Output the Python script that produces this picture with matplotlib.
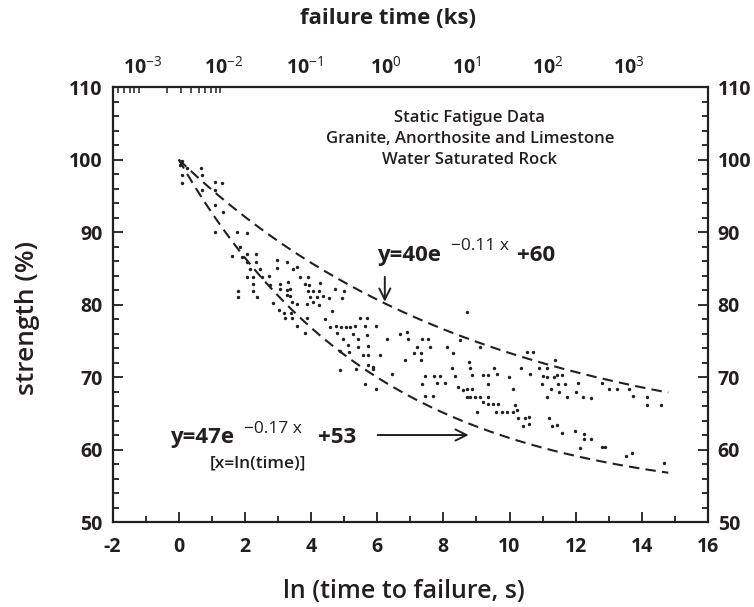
import numpy as np
import matplotlib
matplotlib.use("Agg")
import matplotlib.pyplot as plt
from matplotlib.ticker import FixedLocator, MultipleLocator, FuncFormatter, NullFormatter

plt.rcParams['font.family'] = ['Open Sans', 'DejaVu Sans']
plt.rcParams['mathtext.fontset'] = 'custom'
plt.rcParams['mathtext.rm'] = 'Open Sans'
plt.rcParams['mathtext.bf'] = 'Open Sans:bold'
plt.rcParams['mathtext.it'] = 'Open Sans:italic'
plt.rcParams['lines.scale_dashes'] = False

INK = '#231f20'

# Static fatigue measurements: x = ln(time to failure in s), strength in % of short-term strength
ln_time = [
    0.09, 0.04, 0.26, 0.66, 0.09, 0.69, 0.09, 1.10, 1.30, 0.69, 1.10, 1.10, 1.35, 1.10,
    1.75, 2.05, 1.85, 1.60, 1.90, 2.07, 2.34, 2.34, 2.96, 3.26, 2.15, 2.46, 2.96, 2.05,
    2.25, 2.51, 2.74, 2.25, 3.06, 3.31, 1.80, 2.25, 3.06, 3.26, 1.80, 2.36, 3.26, 2.05,
    2.75,
    3.58, 3.44, 3.67, 3.92, 3.82, 3.95, 4.27, 3.36, 3.92, 4.07, 4.25, 4.72, 5.00, 3.36,
    3.97, 4.17, 4.37, 4.55, 2.84, 3.41, 3.58, 3.89, 4.07, 4.25, 3.04, 4.62, 3.18, 3.38,
    3.21, 3.41, 3.89, 4.42, 3.57, 4.57, 4.75, 4.90, 5.06, 3.82, 4.77, 4.96, 5.13, 4.87,
    4.93, 5.18, 5.33, 5.48, 5.68, 5.63, 5.96, 5.28, 5.70, 6.69, 6.89, 5.43, 6.29, 6.94,
    7.34, 7.54, 5.43, 5.73, 7.19, 7.60, 8.10, 4.87, 5.16, 5.58, 5.73, 6.08, 7.11, 7.31,
    8.30, 6.84, 7.31, 5.73, 5.88, 5.36, 5.88, 8.25, 6.44, 7.44, 7.72, 7.90, 8.35, 5.63,
    7.34, 7.80, 8.05, 5.96, 8.45, 7.44, 7.69,
    8.70, 8.50, 9.11, 8.78, 10.52, 10.70, 11.37, 8.80, 9.53, 10.34, 10.90, 11.12, 8.86,
    9.19, 9.36, 9.61, 9.99, 10.62, 11.00, 11.14, 11.34, 11.44, 11.58, 9.36, 10.97, 11.47,
    11.68, 12.08, 8.58, 8.72, 8.86, 10.09, 11.24, 11.50, 8.70, 8.80, 8.96, 9.11, 9.36,
    11.12, 11.73, 9.19, 9.36, 9.51, 9.66, 10.16, 9.02, 9.59, 9.76, 9.93, 10.09, 10.22,
    10.26, 10.47, 10.60, 11.20, 10.40, 10.60, 11.27, 11.43, 11.58, 11.98,
    12.79, 12.01, 12.21, 12.45, 13.01, 13.26, 13.62, 13.74, 14.16, 14.16, 14.57, 12.25,
    12.25, 12.45, 12.13, 12.79, 12.88, 13.52, 13.69, 14.68,
]
strength = [
    99.8, 99.2, 98.9, 98.9, 97.9, 97.9, 96.7, 96.9, 96.7, 95.8, 95.8, 93.7, 92.8, 90.0,
    90.0, 89.8, 88.0, 86.7, 86.6, 87.0, 87.0, 85.9, 86.1, 85.8, 84.9, 84.9, 85.0, 83.8,
    83.8, 83.8, 83.9, 82.9, 82.9, 83.1, 81.8, 81.8, 82.2, 82.0, 81.1, 81.1, 81.3, 85.9,
    82.7,
    85.2, 84.9, 83.8, 83.8, 82.8, 82.7, 83.0, 82.1, 81.9, 81.9, 81.9, 82.1, 81.9, 81.2,
    81.1, 81.1, 81.2, 80.9, 80.2, 80.3, 80.1, 80.1, 80.3, 79.9, 79.3, 79.1, 78.9, 78.8,
    78.1, 78.1, 78.1, 78.0, 77.0, 76.9, 77.0, 76.9, 76.9, 76.1, 76.1, 75.2, 74.4, 71.0,
    80.9, 76.9, 77.0, 78.1, 78.1, 77.0, 77.0, 76.0, 75.8, 76.0, 76.2, 75.2, 75.2, 75.2,
    75.2, 75.2, 74.1, 74.3, 74.1, 74.1, 74.1, 73.6, 73.5, 73.0, 73.0, 73.0, 73.3, 73.3,
    73.3, 72.3, 72.3, 71.7, 71.4, 71.1, 71.1, 71.3, 70.4, 70.1, 70.1, 70.1, 70.1, 69.1,
    69.0, 69.2, 69.2, 68.4, 68.6, 67.4, 67.4,
    79.0, 75.1, 74.2, 72.1, 73.4, 73.4, 72.3, 71.3, 71.3, 71.2, 71.2, 71.2, 70.3,
    70.3, 70.3, 70.4, 70.0, 70.4, 70.1, 70.0, 70.0, 70.3, 70.3, 69.1, 69.1, 69.0,
    69.0, 69.2, 68.2, 68.3, 68.3, 68.3, 68.4, 68.0, 67.2, 67.3, 67.2, 67.2, 67.2,
    67.2, 67.2, 66.5, 66.3, 66.3, 66.3, 66.1, 65.2, 65.2, 65.2, 65.2, 65.2, 65.4,
    64.3, 64.4, 64.5, 64.4, 63.2, 63.5, 63.2, 63.4, 62.3, 62.5,
    69.2, 68.0, 67.2, 67.1, 68.3, 68.3, 68.4, 67.4, 67.2, 66.1, 66.1, 62.2,
    61.5, 61.4, 60.2, 60.3, 60.4, 59.1, 59.5, 58.2,
]

# Fitted bounds: y = A * exp(-k x) + C
upper_fit = dict(A=40, k=0.11, C=60)
lower_fit = dict(A=47, k=0.17, C=53)
fit_x_range = (0.0, 14.8)

# Failure-time scale on the top axis (decades of ks)
top_exponents = [-3, -2, -1, 0, 1, 2, 3]
decade_origin = -1.1   # position of 10^-3 ks on the ln axis
decade_width = 2.45

fig = plt.figure(figsize=(7.54, 6.07), dpi=100)
ax = fig.add_axes([0.1493, 0.1400, 0.7897, 0.7166])

ax.scatter(ln_time, strength, s=6, color=INK, linewidths=0, zorder=3)

xf = np.linspace(*fit_x_range, 200)
for fit in (upper_fit, lower_fit):
    yf = fit['A'] * np.exp(-fit['k'] * xf) + fit['C']
    ax.plot(xf, yf, color=INK, lw=1.5, dashes=(7.5, 4.5), zorder=2)

ax.set_xlim(-2, 16)
ax.set_ylim(50, 110)

ax.xaxis.set_major_locator(MultipleLocator(2))
ax.xaxis.set_minor_locator(MultipleLocator(1))
ax.yaxis.set_major_locator(MultipleLocator(10))
ax.yaxis.set_minor_locator(MultipleLocator(2))
ax.tick_params(axis='x', which='both', direction='in', top=False, bottom=True,
               colors=INK, width=1.3)
ax.tick_params(axis='x', which='major', length=7, pad=11, labelsize=14)
ax.tick_params(axis='x', which='minor', length=4.5)
ax.tick_params(axis='y', which='both', direction='in', left=True, right=True,
               labelleft=True, labelright=True, colors=INK, width=1.3)
ax.tick_params(axis='y', which='major', length=7, pad=7, labelsize=14)
ax.tick_params(axis='y', which='minor', length=4.5)
for lab in ax.get_xticklabels() + ax.get_yticklabels():
    lab.set_fontweight('bold')
ax.xaxis.set_major_formatter(FuncFormatter(lambda v, p: f'{v:.0f}'))
for sp in ax.spines.values():
    sp.set_linewidth(1.6)
    sp.set_color(INK)


def to_ks(x):
    return 10.0 ** ((np.asarray(x) - decade_origin) / decade_width - 3)


def from_ks(t):
    t = np.clip(np.asarray(t, dtype=float), 1e-30, None)
    return decade_origin + decade_width * (np.log10(t) + 3)


top = ax.secondary_xaxis('top', functions=(to_ks, from_ks))
top.xaxis.set_major_locator(FixedLocator([10.0 ** e for e in top_exponents]))
top.xaxis.set_major_formatter(FuncFormatter(
    lambda v, p: r'$\mathbf{10}^{\mathrm{%d}}$' % int(round(np.log10(v)))))
minor_marks = [m * 10.0 ** d for d in (-4, -3) for m in range(2, 10)] + [1e-3, 1e-2]
top.xaxis.set_minor_locator(FixedLocator(minor_marks))
top.xaxis.set_minor_formatter(NullFormatter())
top.tick_params(axis='x', which='major', length=0, pad=7, labelsize=14, colors=INK)
top.tick_params(axis='x', which='minor', direction='in', length=4.5, width=1.1, colors=INK)
top.spines['top'].set_visible(False)

# Axis titles
fig.text(388 / 754, 1 - 18 / 607, 'failure time (ks)', ha='center', va='center',
         fontsize=16, fontweight='bold', color=INK)
fig.text(404 / 754, 1 - 591 / 607, 'ln (time to failure, s)', ha='center', va='center',
         fontsize=18, fontweight='semibold', color=INK)
fig.text(28 / 754, 1 - 318 / 607, 'strength (%)', ha='center', va='center',
         rotation=90, fontsize=19, fontweight='semibold', color=INK)

ax.text(8.80, 102.8, 'Static Fatigue Data\nGranite, Anorthosite and Limestone\nWater Saturated Rock',
        ha='center', va='center', fontsize=12, fontweight='semibold', color=INK,
        linespacing=1.42)

# Fit equations: main text, raised exponent, constant term
eq_style = dict(fontsize=16, fontweight='bold', color=INK, va='center', ha='left')
sup_style = dict(fontsize=12.5, color=INK, va='center', ha='left')

ax.text(5.99, 86.8, 'y=40e', **eq_style)
ax.text(8.22, 88.1, '\u22120.11 x', **sup_style)
ax.text(10.22, 86.8, '+60', **eq_style)
ax.annotate('', xy=(6.23, 80.0), xytext=(6.23, 84.2),
            arrowprops=dict(arrowstyle='->', color=INK, lw=1.4, mutation_scale=20))

ax.text(-0.27, 61.6, 'y=47e', **eq_style)
ax.text(1.96, 62.9, '\u22120.17 x', **sup_style)
ax.text(4.20, 61.6, '+53', **eq_style)
ax.annotate('', xy=(8.85, 62.0), xytext=(5.93, 62.0),
            arrowprops=dict(arrowstyle='->', color=INK, lw=1.4, mutation_scale=20))
ax.text(0.94, 58.1, '[x=ln(time)]', ha='left', va='center',
        fontsize=12.5, fontweight='semibold', color=INK)

fig.savefig('out.png', dpi=100)
